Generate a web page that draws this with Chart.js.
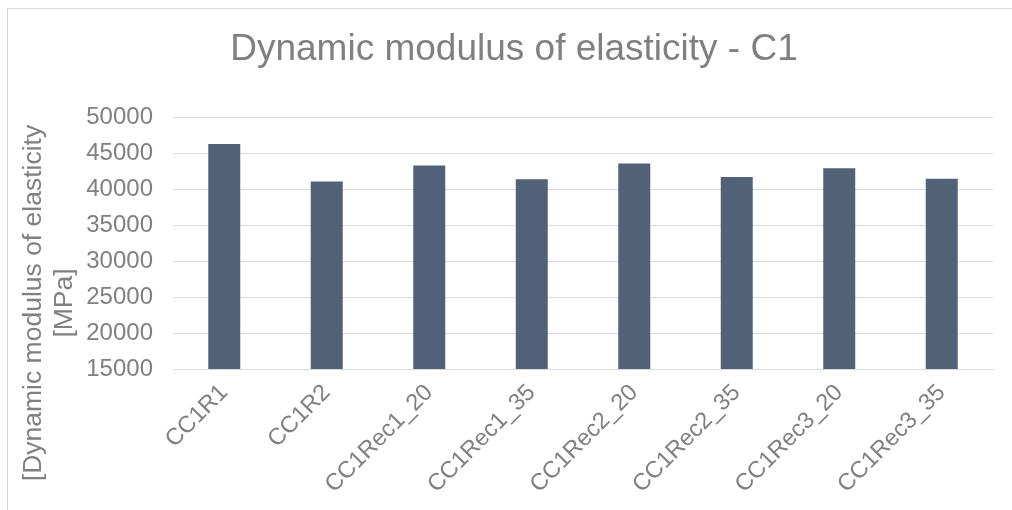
<!DOCTYPE html>
<html>
<head>
<meta charset="utf-8">
<script src="https://cdn.jsdelivr.net/npm/chart.js@4/dist/chart.umd.min.js"></script>
<style>
  html, body { margin: 0; padding: 0; background: #fff; }
  #frame { position: absolute; left: 7px; top: 8px; width: 1100px; height: 600px; border: 1px solid #d9d9d9; }
  #wrap { position: absolute; left: 0; top: 0; width: 1012px; height: 510px; }
</style>
</head>
<body>
<div id="frame"></div>
<div id="wrap"><canvas id="chart"></canvas></div>
<script>
const categories = ['CC1R1', 'CC1R2', 'CC1Rec1_20', 'CC1Rec1_35', 'CC1Rec2_20', 'CC1Rec2_35', 'CC1Rec3_20', 'CC1Rec3_35'];
const modulus = [46300, 41100, 43300, 41400, 43570, 41720, 42920, 41450];
const yTicks = [15000, 20000, 25000, 30000, 35000, 40000, 45000, 50000];
const titleText = 'Dynamic modulus of elasticity - C1';
const yTitleLines = ['[Dynamic modulus of elasticity', '[MPa]'];

const textGray = '#808080';
const gridGray = '#d9d9d9';
const font = 'Liberation Sans, Arial, sans-serif';

// draws the two-line rotated y axis title like Excel does
const yTitlePlugin = {
    id: 'yTitle',
    afterDraw(chart) {
        const ctx = chart.ctx;
        ctx.save();
        ctx.fillStyle = textGray;
        ctx.font = '26.5px ' + font;
        ctx.textAlign = 'center';
        ctx.textBaseline = 'middle';
        const xs = [34, 65];
        yTitleLines.forEach((line, i) => {
            ctx.save();
            ctx.translate(xs[i], 303);
            ctx.rotate(-Math.PI / 2);
            ctx.fillText(line, 0, 0);
            ctx.restore();
        });
        ctx.restore();
    }
};

const ctx = document.getElementById('chart').getContext('2d');
new Chart(ctx, {
    type: 'bar',
    data: {
        labels: categories,
        datasets: [{
            data: modulus,
            backgroundColor: '#506178',
            borderWidth: 0,
            categoryPercentage: 1,
            barPercentage: 0.312
        }]
    },
    options: {
        responsive: true,
        maintainAspectRatio: false,
        animation: false,
        layout: { padding: { left: 35, right: 19, top: 0, bottom: 0 } },
        plugins: {
            legend: { display: false },
            tooltip: { enabled: false },
            title: {
                display: true,
                text: titleText,
                color: textGray,
                font: { family: font, size: 37, weight: 'normal' },
                padding: { top: 28, bottom: 45 }
            }
        },
        scales: {
            x: {
                grid: { display: false, drawTicks: false },
                border: { color: gridGray, width: 1 },
                ticks: {
                    color: textGray,
                    font: { family: font, size: 23.5 },
                    minRotation: 45,
                    maxRotation: 45,
                    padding: 10
                },
                afterFit(scale) { scale.height = 141; }
            },
            y: {
                min: 15000,
                max: 50000,
                afterBuildTicks(scale) { scale.ticks = yTicks.map(v => ({ value: v })); },
                grid: { color: gridGray, lineWidth: 1, drawTicks: false },
                border: { display: false },
                ticks: {
                    color: textGray,
                    font: { family: font, size: 24 },
                    padding: 20,
                    callback: v => String(v)
                },
                afterFit(scale) { scale.width = 138; }
            }
        }
    },
    plugins: [yTitlePlugin]
});
</script>
</body>
</html>
